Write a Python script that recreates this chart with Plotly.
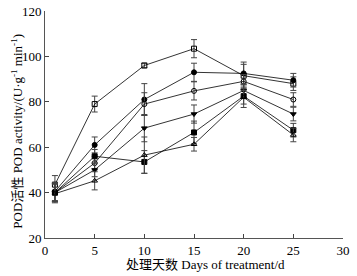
import plotly.graph_objects as go

days = [1, 5, 10, 15, 20, 25]
open_square = [43.5, 79, 96, 103.4, 91.5, 88]
filled_circle = [40.5, 61, 81, 93, 92.5, 89.5]
open_circle = [40, 53, 79, 84.8, 89, 81]
down_triangle = [40, 50, 68.4, 74.6, 85, 74.6]
filled_square = [40, 56, 53.5, 66.5, 82.5, 67.5]
open_triangle = [39.5, 45.2, 56.5, 61.3, 82, 65.4]

err_open_square = [4, 3.5, 1, 4, 5, 3]
err_filled_circle = [4, 3.5, 7, 4, 5, 3]
err_open_circle = [4, 3, 5, 4, 3, 3]
err_down_triangle = [4, 3, 6, 4, 3, 3]
err_filled_square = [4, 3, 5, 5, 5, 3]
err_open_triangle = [4, 4, 8, 3, 3, 3]

x_ticks = [0, 5, 10, 15, 20, 25, 30]
y_ticks = [20, 40, 60, 80, 100, 120]

x_title = "处理天数 Days of treatment/d"
y_title = "POD活性 POD activity/(U·g<sup>-1</sup> min<sup>-1</sup>)"

series = [
    (open_square, err_open_square, "square-open"),
    (filled_circle, err_filled_circle, "circle"),
    (open_circle, err_open_circle, "circle-open"),
    (down_triangle, err_down_triangle, "triangle-down"),
    (filled_square, err_filled_square, "square"),
    (open_triangle, err_open_triangle, "triangle-up-open"),
]

fig = go.Figure()
for vals, errs, sym in series:
    fig.add_trace(go.Scatter(
        x=days, y=vals, mode="lines+markers",
        line=dict(color="black", width=0.8),
        marker=dict(symbol=sym, size=5, color="black", line=dict(color="black", width=1)),
        error_y=dict(type="data", array=errs, visible=True, color="#444", thickness=1, width=3),
        showlegend=False,
    ))

font = dict(family="Liberation Serif, Noto Sans CJK SC", size=13, color="black")
fig.update_layout(
    width=357, height=276,
    margin=dict(l=45, r=14, t=11, b=38, autoexpand=False),
    plot_bgcolor="white", paper_bgcolor="white",
    font=font,
    xaxis=dict(range=[0, 30], tickvals=x_ticks, ticks="inside", ticklen=4,
               showline=True, linecolor="#555", linewidth=1, showgrid=False, zeroline=False,
               automargin=False, tickfont=dict(size=13)),
    yaxis=dict(range=[20, 120], tickvals=y_ticks, ticks="inside", ticklen=4,
               showline=True, linecolor="#555", linewidth=1, showgrid=False, zeroline=False,
               automargin=False, tickfont=dict(size=13)),
    annotations=[
        dict(text=x_title, xref="paper", yref="paper", x=0.537, y=0, yshift=-26,
             xanchor="center", yanchor="middle", showarrow=False, font=dict(size=13)),
        dict(text=y_title, xref="paper", yref="paper", x=-0.097, y=0.469, textangle=-90,
             xanchor="center", yanchor="middle", showarrow=False, font=dict(size=13)),
    ],
)

fig.write_html("out.html", config={"displayModeBar": False},
               post_script="document.body.style.margin='0';")
